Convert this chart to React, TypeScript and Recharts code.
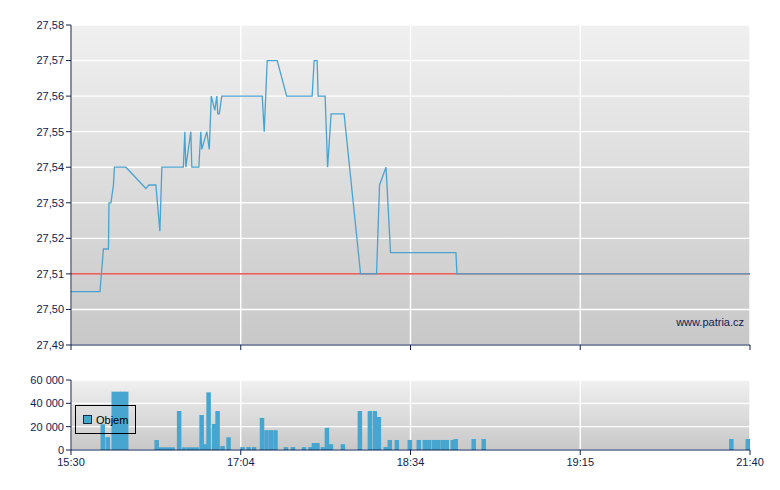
import React from 'react';
import {
  LineChart,
  Line,
  ComposedChart,
  Bar,
  XAxis,
  YAxis,
  CartesianGrid,
  ReferenceLine,
} from 'recharts';

// time slots along the (non-linear) session axis, 0..136
const timeTicks = [0, 34, 68, 102, 136];
const timeLabels = ['15:30', '17:04', '18:34', '19:15', '21:40'];

const priceTicks = [27.49, 27.5, 27.51, 27.52, 27.53, 27.54, 27.55, 27.56, 27.57, 27.58];
const referencePrice = 27.51;

const priceX = [
  0, 5.8, 6.5, 7.5, 7.6, 8.0, 8.5, 8.7, 11.0, 15.0, 15.6, 17.0, 17.8, 18.2, 22.5, 22.8, 23.0, 24.0,
  24.2, 25.6, 26.0, 26.2, 27.2, 27.7, 28.1, 28.8, 29.2, 29.4, 29.7, 30.2, 38.3, 38.7, 39.3, 41.3,
  43.2, 48.3, 48.7, 49.3, 49.5, 50.9, 51.4, 52.1, 54.7, 58.0, 61.2, 61.8, 63.1, 64.0, 77.1, 77.3, 136,
];
const priceY = [
  27.505, 27.505, 27.517, 27.517, 27.53, 27.53, 27.535, 27.54, 27.54, 27.534, 27.535, 27.535, 27.522,
  27.54, 27.54, 27.55, 27.54, 27.55, 27.54, 27.54, 27.55, 27.545, 27.55, 27.545, 27.56, 27.556, 27.56,
  27.555, 27.555, 27.56, 27.56, 27.55, 27.57, 27.57, 27.56, 27.56, 27.57, 27.57, 27.56, 27.56, 27.54,
  27.555, 27.555, 27.51, 27.51, 27.535, 27.54, 27.516, 27.516, 27.51, 27.51,
];

const volumeTicks = [0, 20000, 40000, 60000];
const volumeX = [
  6.4, 7.4, 8.6, 9.5, 10.3, 11.1, 17.2, 18.0, 18.8, 19.6, 20.4, 21.7, 22.7, 23.6, 24.4, 25.2, 26.2,
  26.9, 27.6, 28.7, 29.4, 30.4, 31.6, 34.4, 35.6, 36.7, 38.3, 39.2, 40.1, 41.0, 43.1, 44.5, 46.7,
  48.0, 48.7, 49.4, 50.5, 51.3, 52.1, 54.5, 57.9, 59.9, 60.9, 61.7, 63.1, 63.9, 65.3, 67.9, 69.7,
  70.9, 71.8, 72.8, 73.6, 74.5, 75.3, 76.5, 77.1, 80.7, 82.7, 132.3, 135.6,
];
const volumeY = [
  22000, 11000, 50000, 50000, 50000, 50000, 8600, 2300, 2300, 2300, 2300, 33400, 2300, 2300, 2300,
  2300, 30000, 5000, 49400, 22300, 33400, 3400, 10900, 2500, 2500, 2500, 27500, 17000, 17000, 17000,
  2500, 2500, 2500, 2500, 6000, 6000, 2500, 19000, 5000, 5000, 33400, 33400, 33400, 28300, 2500,
  8600, 8600, 8600, 8600, 8600, 8600, 8600, 8600, 8600, 8600, 8600, 9400, 9400, 9400, 9400, 9400,
];

const priceData = priceX.map((x, i) => ({ x, price: priceY[i] }));
const volumeData = volumeX.map((x, i) => ({ x, volume: volumeY[i] }));

const NAVY = '#0d2352';
const FONT = '"Liberation Sans", Arial, sans-serif';
const tickStyle = { fill: NAVY, fontSize: 11, fontFamily: FONT };
const BAR_W = 4.5;

const fmtPrice = (v: number) => v.toFixed(2).replace('.', ',');
const fmtVolume = (v: number) => String(v).replace(/\B(?=(\d{3})+(?!\d))/g, ' ');
const fmtTime = (v: number) => timeLabels[timeTicks.indexOf(v)] ?? '';

// keep the bar centred on its slot, but give it the fixed width the original uses
const VolumeBar = (props: any) => {
  const { x, y, width, height, fill } = props;
  if (!height) return null;
  const cx = x + width / 2;
  return <rect x={cx - BAR_W / 2} y={y} width={BAR_W} height={height} fill={fill} />;
};

const VolumeLegend = () => (
  <div
    style={{
      position: 'absolute',
      left: 75,
      top: 405,
      width: 61,
      height: 29,
      border: '1px solid #000',
      boxSizing: 'border-box',
      display: 'flex',
      alignItems: 'center',
      fontFamily: FONT,
      fontSize: 11,
      color: '#000',
    }}
  >
    <span
      style={{
        display: 'inline-block',
        width: 7,
        height: 7,
        marginLeft: 7,
        marginRight: 4,
        background: '#46a6d0',
        border: '1px solid #1b2b44',
      }}
    />
    Objem
  </div>
);

export default function App() {
  return (
    <div style={{ position: 'absolute', left: 0, top: 0, width: 780, height: 490, background: '#fff' }}>
      <svg width={0} height={0} style={{ position: 'absolute' }}>
        <defs>
          <linearGradient id="plotBg" x1="0" y1="0" x2="0" y2="1">
            <stop offset="0%" stopColor="#f0f0f0" />
            <stop offset="100%" stopColor="#c8c8c8" />
          </linearGradient>
        </defs>
      </svg>

      <div style={{ position: 'absolute', left: 0, top: 0 }}>
        <LineChart width={780} height={360} data={priceData} margin={{ top: 25, right: 30, bottom: 10, left: 8 }}>
          <CartesianGrid stroke="#ffffff" strokeWidth={1.4} fill="url(#plotBg)" />
          <XAxis
            dataKey="x"
            type="number"
            domain={[0, 136]}
            ticks={timeTicks}
            tickFormatter={() => ''}
            height={5}
            tickSize={5}
            stroke={NAVY}
            tick={tickStyle}
          />
          <YAxis
            type="number"
            domain={[27.49, 27.58]}
            ticks={priceTicks}
            tickFormatter={fmtPrice}
            width={63}
            tickSize={5}
            tickMargin={2}
            stroke={NAVY}
            tick={tickStyle}
            interval={0}
          />
          <ReferenceLine y={referencePrice} stroke="#e8302c" strokeWidth={1.2} />
          <Line
            dataKey="price"
            type="linear"
            stroke="#4aa3cf"
            strokeWidth={1.3}
            dot={false}
            isAnimationActive={false}
          />
        </LineChart>
      </div>

      <div
        style={{
          position: 'absolute',
          top: 316,
          right: 36,
          fontFamily: FONT,
          fontSize: 11,
          lineHeight: '12px',
          color: NAVY,
        }}
      >
        www.patria.cz
      </div>

      <div style={{ position: 'absolute', left: 0, top: 360 }}>
        <ComposedChart width={780} height={130} data={volumeData} margin={{ top: 20, right: 30, bottom: 10, left: 8 }}>
          <CartesianGrid stroke="#ffffff" strokeWidth={1.4} fill="url(#plotBg)" />
          <XAxis
            dataKey="x"
            type="number"
            domain={[0, 136]}
            ticks={timeTicks}
            tickFormatter={fmtTime}
            height={30}
            tickSize={5}
            tickMargin={3}
            stroke={NAVY}
            tick={tickStyle}
            interval={0}
          />
          <YAxis
            type="number"
            domain={[0, 60000]}
            ticks={volumeTicks}
            tickFormatter={fmtVolume}
            width={63}
            tickSize={5}
            tickMargin={2}
            stroke={NAVY}
            tick={tickStyle}
            interval={0}
          />
          <Bar dataKey="volume" fill="#46a6d0" shape={VolumeBar} isAnimationActive={false} />
        </ComposedChart>
      </div>

      <VolumeLegend />
    </div>
  );
}
